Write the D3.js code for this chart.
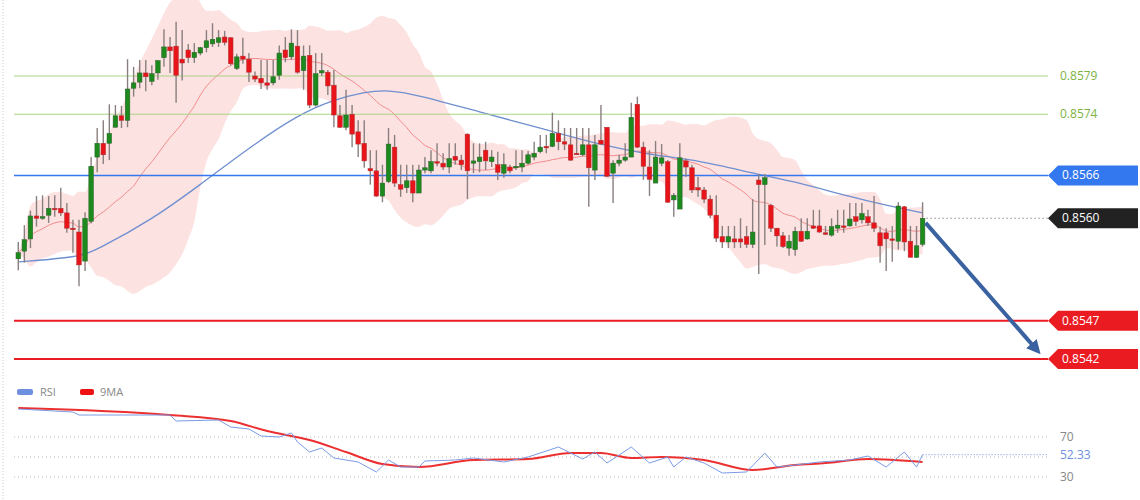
<!DOCTYPE html>
<html><head><meta charset="utf-8">
<script src="https://cdn.jsdelivr.net/npm/d3@7"></script>
<style>body{margin:0;background:#fff}svg{display:block}text{font-family:"Open Sans",sans-serif}</style>
</head><body><svg id="c" width="1140" height="500"></svg>
<script>
const open=[85551,85561,85577,85607,85604,85608,85617,85617,85611,85591,85586,85548,85600,85684,85702,85702,85723,85738,85732,85774,85782,85794,85783,85794,85814,85828,85829,85812,85824,85814,85820,85827,85832,85834,85841,85840,85800,85816,85812,85790,85787,85781,85781,85791,85824,85815,85829,85797,85817,85752,85794,85795,85778,85738,85723,85740,85717,85702,85669,85666,85633,85652,85697,85648,85644,85653,85637,85667,85666,85678,85676,85671,85685,85680,85714,85676,85678,85693,85678,85674,85663,85671,85670,85671,85676,85684,85691,85698,85698,85715,85704,85700,85689,85687,85700,85667,85706,85723,85663,85676,85680,85684,85753,85697,85671,85650,85676,85678,85628,85616,85679,85670,85644,85641,85629,85608,85580,85573,85577,85577,85580,85570,85654,85648,85621,85591,85581,85565,85563,85587,85577,85594,85594,85585,85582,85591,85594,85594,85606,85602,85606,85598,85585,85585,85577,85574,85619,85574,85553,85570].map(v=>v/1e5);
const high=[85573,85595,85614,85633,85634,85633,85634,85644,85624,85602,85602,85612,85684,85722,85732,85753,85752,85751,85812,85802,85811,85811,85804,85811,85851,85841,85861,85850,85832,85833,85828,85850,85859,85850,85849,85841,85819,85840,85820,85796,85811,85811,85811,85830,85841,85851,85850,85830,85830,85820,85820,85798,85798,85752,85772,85752,85732,85732,85693,85693,85674,85722,85713,85674,85674,85674,85674,85684,85693,85702,85689,85702,85702,85687,85715,85702,85702,85704,85693,85691,85689,85674,85693,85693,85692,85704,85713,85713,85742,85732,85722,85722,85722,85722,85722,85713,85752,85723,85680,85687,85702,85755,85763,85704,85693,85705,85701,85680,85637,85702,85682,85674,85658,85645,85634,85634,85594,85594,85594,85604,85594,85629,85662,85662,85623,85591,85586,85582,85593,85604,85604,85615,85615,85594,85604,85615,85615,85624,85624,85624,85615,85633,85593,85591,85594,85625,85620,85594,85594,85625].map(v=>v/1e5);
const low=[85536,85546,85565,85593,85602,85598,85606,85607,85585,85559,85515,85535,85597,85664,85675,85680,85723,85722,85723,85763,85774,85770,85778,85785,85802,85794,85755,85784,85807,85807,85817,85821,85828,85828,85830,85804,85798,85806,85782,85782,85773,85772,85778,85785,85808,85811,85793,85772,85748,85750,85790,85765,85723,85722,85719,85697,85684,85670,85648,85632,85625,85650,85645,85632,85637,85625,85637,85663,85663,85672,85667,85663,85674,85667,85629,85663,85664,85667,85671,85654,85657,85663,85667,85664,85674,85680,85689,85689,85697,85693,85693,85679,85687,85685,85619,85654,85700,85658,85624,85672,85678,85684,85696,85654,85633,85650,85672,85624,85606,85616,85658,85637,85632,85624,85604,85573,85565,85565,85565,85565,85565,85565,85531,85569,85586,85567,85565,85555,85555,85573,85576,85590,85585,85582,85580,85585,85585,85593,85594,85597,85594,85586,85546,85535,85547,85563,85561,85553,85552,85567].map(v=>v/1e5);
const close=[85559,85576,85607,85604,85606,85617,85616,85611,85591,85589,85543,85604,85672,85702,85687,85715,85738,85732,85773,85781,85794,85789,85793,85810,85828,85823,85791,85807,85814,85821,85827,85836,85838,85840,85834,85806,85815,85812,85795,85786,85781,85778,85789,85820,85814,85833,85795,85816,85752,85793,85797,85777,85739,85723,85739,85714,85701,85679,85666,85633,85650,85701,85650,85642,85653,85637,85667,85670,85678,85677,85671,85682,85680,85674,85666,85679,85684,85679,85684,85664,85674,85666,85672,85676,85687,85689,85697,85696,85715,85704,85701,85680,85688,85700,85670,85700,85701,85659,85676,85680,85684,85736,85697,85672,85655,85684,85683,85625,85634,85683,85671,85641,85641,85629,85608,85578,85573,85580,85573,85573,85570,85586,85648,85657,85591,85581,85567,85574,85587,85574,85587,85591,85586,85584,85593,85595,85593,85603,85600,85610,85598,85591,85568,85577,85576,85620,85573,85553,85568,85604].map(v=>v/1e5);
const maIdx=[0,10,13,22,30,38,46,52,57,61,66,76,86,96,104,112,122,128,137,143,149];
const maVal=[85547,85553,85563,85602,85648,85696,85739,85759,85769,85772,85765,85743,85722,85700,85687,85680,85661,85652,85632,85621,85611].map(v=>v/1e5);
const rsiIdx=[0,9,10,25,26,33,35,38,40,43,45,46,48,50,52,56,59,61,63,66,67,72,75,80,84,89,91,93,95,97,101,104,107,108,110,113,116,120,123,125,128,132,137,140,143,146,148,149];
const rsiVal=[98,95,92,92,86,87,80,78,71,70,74,65,55,59,49,45,35,47,40,40,46,47,49,45,50,60,54,48,55,44,60,44,50,40,50,44,34,35,54,40,42,45,47,51,40,55,40,52.33];
const rsiMaIdx=[0,25,35,41,48,54,60,66,75,84,91,96,101,106,113,121,128,133,140,149];
const rsiMaVal=[99,92,86,76,67,55,43,40,47,48,54,54,49,50,47,37,42,44,48,45];
const levels=[{p:0.8579,t:"0.8579",k:"g"},{p:0.8574,t:"0.8574",k:"g"},{p:0.8566,t:"0.8566",k:"b"},{p:0.8547,t:"0.8547",k:"r"},{p:0.8542,t:"0.8542",k:"r"}];
const lastLabel="0.8560";
const rsiLevels=[70,50,30];

const svg=d3.select("#c");
const x=d3.scaleLinear().domain([0,149]).range([18.3,922.6]);
const y=d3.scaleLinear().domain([0.8542,0.8579]).range([359,76]);
const ry=d3.scaleLinear().domain([30,70]).range([477,437]);
svg.append("line").attr("x1",3).attr("x2",3).attr("y1",0).attr("y2",500).attr("stroke","#ccc").attr("stroke-dasharray","1,2");

// Bollinger
const bb=close.map((c,i)=>{const w=close.slice(Math.max(0,i-19),i+1);const m=d3.mean(w);const s=Math.sqrt(d3.mean(w,v=>(v-m)**2));return {i,m,u:m+2*s,l:m-2*s};});
svg.append("path").datum(bb).attr("fill","#fde2e2").attr("d",d3.area().x(d=>x(d.i)).y0(d=>y(d.l)).y1(d=>y(d.u)).curve(d3.curveMonotoneX));
svg.append("path").datum(bb).attr("fill","none").attr("stroke","#f28c8c").attr("stroke-width",1).attr("d",d3.line().x(d=>x(d.i)).y(d=>y(d.m)).curve(d3.curveMonotoneX));
svg.append("path").datum(maIdx.map((d,k)=>[d,maVal[k]])).attr("fill","none").attr("stroke","#6f8fd0").attr("stroke-width",1.3).attr("d",d3.line().x(d=>x(d[0])).y(d=>y(d[1])).curve(d3.curveBasis));

// levels
const col={g:"#a8d483",b:"#3478f0",r:"#ea1c22"};
levels.forEach(l=>{
  svg.append("line").attr("x1",14).attr("x2",1048).attr("y1",y(l.p)).attr("y2",y(l.p)).attr("stroke",col[l.k]).attr("stroke-width",l.k=="g"?1:(l.k=="b"?1.5:2));
  if(l.k=="g"){svg.append("text").attr("x",1060).attr("y",y(l.p)+4).attr("fill","#7cb342").attr("font-size",12).text(l.t);}
  else{svg.append("path").attr("d",`M1058,${y(l.p)-10}H1138V${y(l.p)+10}H1058L1048,${y(l.p)}Z`).attr("fill",col[l.k]);
    svg.append("text").attr("x",1062).attr("y",y(l.p)+4).attr("fill","#fff").attr("font-size",12).text(l.t);}
});
const ly=y(close[149]);
svg.append("line").attr("x1",x(149)+4).attr("x2",1048).attr("y1",ly).attr("y2",ly).attr("stroke","#555").attr("stroke-dasharray","1,3");
svg.append("path").attr("d",`M1058,${ly-10}H1138V${ly+10}H1058L1048,${ly}Z`).attr("fill","#222");
svg.append("text").attr("x",1062).attr("y",ly+4).attr("fill","#fff").attr("font-size",12).text(lastLabel);

// candles
const g=svg.append("g");
close.forEach((c,i)=>{const o=open[i];const up=c>=o;const cx=x(i);
  g.append("line").attr("x1",cx).attr("x2",cx).attr("y1",y(Math.max(high[i],o,c))).attr("y2",y(Math.min(low[i],o,c))).attr("stroke","#8a7f7f").attr("stroke-width",1.4);
  const t=y(Math.max(o,c)),b=y(Math.min(o,c));
  g.append("rect").attr("x",cx-2.3).attr("width",4.6).attr("y",t).attr("height",Math.max(1.5,b-t)).attr("fill",up?"#1d8a1d":"#e8141a").attr("stroke",up?"#2b5e2b":"#a33").attr("stroke-width",0.5);
});

// arrow
svg.append("defs").append("marker").attr("id","ah").attr("viewBox","0 0 10 10").attr("refX",5).attr("refY",5).attr("markerWidth",3.5).attr("markerHeight",3.5).attr("orient","auto").append("path").attr("d","M0,0L10,5L0,10Z").attr("fill","#3a62a0");
svg.append("line").attr("x1",x(149)+3).attr("y1",y(0.85598)).attr("x2",1036).attr("y2",349).attr("stroke","#3a62a0").attr("stroke-width",4).attr("marker-end","url(#ah)");

// RSI panel
rsiLevels.forEach(v=>svg.append("line").attr("x1",14).attr("x2",1048).attr("y1",ry(v)).attr("y2",ry(v)).attr("stroke","#bbb").attr("stroke-dasharray","1,3"));
[70,30].forEach(v=>svg.append("text").attr("x",1060).attr("y",ry(v)+4).attr("fill","#888").attr("font-size",12).text(v));
const lastR=rsiVal[rsiVal.length-1];
svg.append("line").attr("x1",x(149)).attr("x2",1048).attr("y1",ry(lastR)).attr("y2",ry(lastR)).attr("stroke","#6f8fe0").attr("stroke-dasharray","1,2");
svg.append("text").attr("x",1060).attr("y",ry(lastR)+4).attr("fill","#6f8fe0").attr("font-size",12).text(lastR.toFixed(2));
svg.append("path").datum(rsiMaIdx.map((d,k)=>[d,rsiMaVal[k]])).attr("fill","none").attr("stroke","#ec3030").attr("stroke-width",2).attr("d",d3.line().x(d=>x(d[0])).y(d=>ry(d[1])).curve(d3.curveMonotoneX));
svg.append("path").datum(rsiIdx.map((d,k)=>[d,rsiVal[k]])).attr("fill","none").attr("stroke","#7b9be6").attr("stroke-width",1).attr("d",d3.line().x(d=>x(d[0])).y(d=>ry(d[1])));
svg.append("rect").attr("x",17).attr("y",389).attr("width",16).attr("height",6).attr("rx",2).attr("fill","#6f8fe0");
svg.append("text").attr("x",40).attr("y",396).attr("fill","#888").attr("font-size",11).text("RSI");
svg.append("rect").attr("x",80).attr("y",389).attr("width",14).attr("height",6).attr("rx",2).attr("fill","#ee1111");
svg.append("text").attr("x",100).attr("y",396).attr("fill","#888").attr("font-size",11).text("9MA");
</script></body></html>
